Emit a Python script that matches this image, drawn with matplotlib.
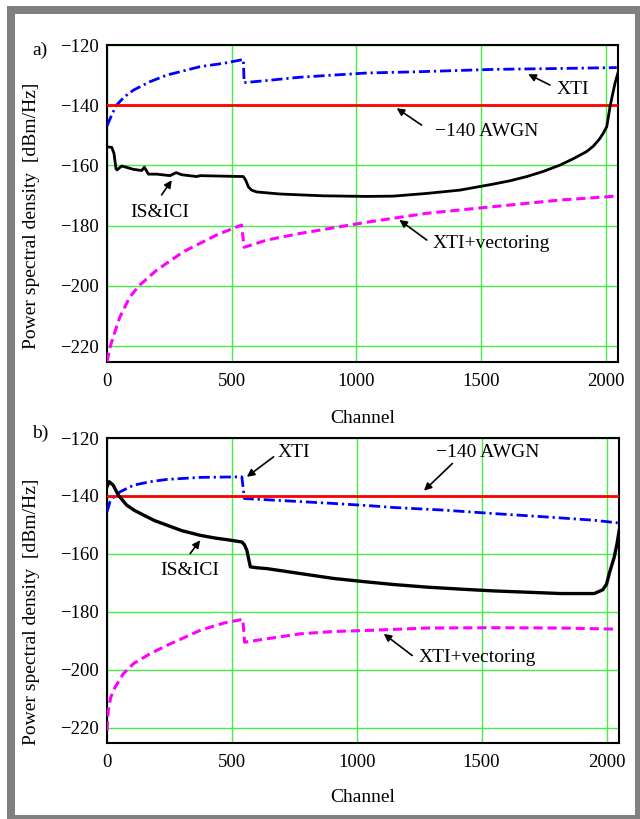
import numpy as np
import matplotlib
matplotlib.use("Agg")
import matplotlib.pyplot as plt
from matplotlib.patches import Rectangle

plt.rcParams['font.family'] = ['Liberation Serif', 'DejaVu Serif']
plt.rcParams['axes.unicode_minus'] = True

AWGN_LEVEL = -140

# ---- panel a) ----
a_xti_ch = [0, 20, 39, 70, 106, 172, 240, 373, 467, 547, 550, 641, 774, 907, 1042, 1242, 1550, 1817, 2045]
a_xti_db = [-146.9, -143.0, -139.9, -137.2, -135.0, -132.2, -130.0, -127.2, -126.1, -124.8, -132.5,
            -131.8, -130.7, -130.0, -129.3, -128.9, -128.1, -127.8, -127.5]

a_isici_ch = [0, 19, 28, 36, 40, 59, 106, 139, 150, 166, 199, 253, 277, 300, 360, 373, 547, 557, 567,
              580, 600, 694, 868, 1042, 1149, 1283, 1416, 1550, 1617, 1684, 1750, 1817, 1870, 1924,
              1951, 1975, 1991, 2005, 2018, 2025, 2038, 2051]
a_isici_db = [-153.8, -154.0, -156.0, -161.0, -161.5, -160.2, -161.3, -161.7, -160.6, -162.9, -162.9,
              -163.4, -162.4, -163.1, -163.7, -163.4, -163.7, -165.0, -167.1, -168.2, -168.8, -169.5,
              -170.1, -170.3, -170.2, -169.3, -168.2, -166.2, -165.1, -163.7, -162.0, -159.9, -157.8,
              -155.4, -153.6, -151.3, -149.3, -147.1, -140.5, -137.7, -132.7, -128.9]

a_vect_ch = [0, 12, 25, 52, 92, 132, 199, 306, 440, 540, 550, 641, 774, 975, 1055, 1283, 1550, 1817, 2045]
a_vect_db = [-225.2, -220.5, -216.9, -210.3, -203.6, -199.7, -194.8, -188.7, -183.1, -179.8, -187.2,
             -184.8, -182.6, -179.8, -178.7, -175.9, -173.7, -171.5, -170.2]

# ---- panel b) ----
b_xti_ch = [0, 12, 30, 52, 106, 172, 240, 373, 540, 550, 721, 908, 1055, 1149, 1349, 1550, 1750, 1951, 2045]
b_xti_db = [-145.5, -142.0, -140.0, -138.6, -136.3, -135.1, -134.3, -133.6, -133.4, -140.9, -141.7,
            -142.6, -143.4, -144.0, -144.9, -146.1, -147.2, -148.4, -149.3]

b_isici_ch = [0, 9, 25, 45, 79, 110, 146, 190, 240, 300, 373, 430, 480, 540, 550, 560, 574, 600, 641,
              774, 908, 1042, 1150, 1283, 1420, 1550, 1700, 1817, 1951, 1985, 2000, 2011, 2031, 2042,
              2051]
b_isici_db = [-136.8, -135.1, -136.3, -139.7, -143.2, -145.0, -146.6, -148.5, -150.1, -152.0, -153.6,
              -154.5, -155.1, -155.9, -156.8, -158.8, -164.5, -164.8, -165.1, -166.8, -168.5, -169.7,
              -170.6, -171.5, -172.2, -172.8, -173.3, -173.7, -173.7, -172.4, -170.5, -166.8, -161.1,
              -156.5, -151.8]

b_vect_ch = [0, 5, 15, 32, 65, 106, 172, 240, 373, 467, 544, 551, 641, 774, 908, 1055, 1283, 1550, 1817, 2045]
b_vect_db = [-221.0, -214.1, -209.5, -206.1, -201.4, -197.9, -194.5, -191.6, -186.4, -183.9, -182.6,
             -190.5, -189.3, -187.6, -186.8, -186.4, -185.6, -185.5, -185.6, -186.0]

# annotation text: (label, text pos, arrow tail, arrow head)
a_notes = [
    ("XTI", (1869, -134.9), (1777, -133.3), (1690, -129.7)),
    ("\u2212140 AWGN", (1523, -148.8), (1262, -146.6), (1162, -141.0)),
    ("XTI+vectoring", (1543, -186.1), (1283, -184.8), (1173, -178.1)),
    ("IS&ICI", (213, -175.6), (219, -169.8), (260, -164.9)),
]
b_notes = [
    ("XTI", (747, -125.1), (667, -126.5), (560, -133.4)),
    ("\u2212140 AWGN", (1523, -125.1), (1383, -128.8), (1269, -138.2)),
    ("IS&ICI", (333, -165.7), (333, -159.9), (373, -155.3)),
    ("XTI+vectoring", (1483, -195.7), (1222, -195.1), (1108, -187.6)),
]

fig = plt.figure(figsize=(6.4, 8.19), dpi=100)

# grey frame round the page
fig.add_artist(Rectangle((7 / 640, 0), 1 - 7 / 640, 813 / 819, transform=fig.transFigure,
                         facecolor='#808080', edgecolor='none', zorder=-10))
fig.add_artist(Rectangle((15 / 640, 4 / 819), 620 / 640, 801 / 819, transform=fig.transFigure,
                         facecolor='white', edgecolor='none', zorder=-9))

ax_a = fig.add_axes([107 / 640, 1 - 362 / 819, 511 / 640, 317 / 819])
ax_b = fig.add_axes([107 / 640, 1 - 743 / 819, 512 / 640, 305 / 819])

dashdot = (0, (4, 1.4, 0.8, 1.4))
dashed = (0, (3, 1.6))


def draw_panel(ax, xti, isici, vect, notes, black_lw, ylab_y):
    ax.plot(xti[0], xti[1], color='#0000ff', lw=2, linestyle=dashdot, zorder=3)
    ax.axhline(AWGN_LEVEL, color='#ff0000', lw=2, zorder=3)
    ax.plot(isici[0], isici[1], color='black', lw=black_lw, zorder=4)
    ax.plot(vect[0], vect[1], color='#ff00ff', lw=2.2, linestyle=dashed, zorder=3)

    ax.set_xlim(0, 2050)
    ax.set_ylim(-225.3, -120)
    ax.set_xticks([0, 500, 1000, 1500, 2000])
    ax.set_yticks([-220, -200, -180, -160, -140, -120])
    ax.grid(True, color='#44ee44', lw=1.0)
    ax.set_axisbelow(True)
    ax.tick_params(length=0, labelsize=13.5)
    ax.tick_params(axis='y', pad=6)
    ax.tick_params(axis='x', pad=8)
    for s in ax.spines.values():
        s.set_linewidth(1.5)

    ax.set_xlabel("Channel", fontsize=14)
    ax.set_ylabel("Power spectral density  [dBm/Hz]", fontsize=14)
    ax.xaxis.set_label_coords(0.5, -0.15)
    ax.yaxis.set_label_coords(-0.131, ylab_y)

    for label, txt, tail, head in notes:
        ax.text(txt[0], txt[1], label, fontsize=14, ha='center', va='center', zorder=5)
        ax.annotate('', xy=head, xytext=tail,
                    arrowprops=dict(arrowstyle='-|>', color='black', lw=1.2,
                                    mutation_scale=11, shrinkA=0, shrinkB=0), zorder=5)


draw_panel(ax_a, (a_xti_ch, a_xti_db), (a_isici_ch, a_isici_db), (a_vect_ch, a_vect_db),
           a_notes, 2.0, 0.46)
draw_panel(ax_b, (b_xti_ch, b_xti_db), (b_isici_ch, b_isici_db), (b_vect_ch, b_vect_db),
           b_notes, 2.4, 0.43)

fig.text(40 / 640, 1 - 50 / 819, "a)", fontsize=14, ha='center', va='center')
fig.text(40 / 640, 1 - 433 / 819, "b)", fontsize=14, ha='center', va='center')

fig.savefig("out.png", dpi=100)
